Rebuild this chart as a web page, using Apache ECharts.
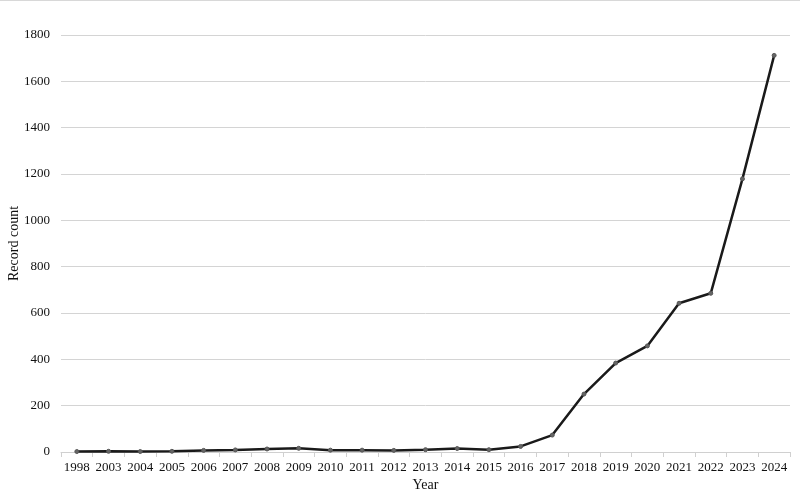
<!DOCTYPE html>
<html>
<head>
<meta charset="utf-8">
<script src="https://cdn.jsdelivr.net/npm/echarts@6/dist/echarts.min.js"></script>
<style>
  html, body { margin: 0; padding: 0; background: #fff; }
  #chart { width: 800px; height: 491px; }
</style>
</head>
<body>
<div id="chart"></div>
<script>
const years = ['1998', '2003', '2004', '2005', '2006', '2007', '2008', '2009', '2010', '2011',
  '2012', '2013', '2014', '2015', '2016', '2017', '2018', '2019', '2020', '2021',
  '2022', '2023', '2024']
const recordCounts = [2, 3, 2, 3, 7, 9, 13, 16, 8, 8,
  7, 10, 15, 10, 24, 73, 250, 384, 458, 642,
  685, 1179, 1712]

const font = 'Liberation Serif'

const chart = echarts.init(document.getElementById('chart'))
chart.setOption({
  animation: false,
  textStyle: { fontFamily: font },
  grid: { left: 61, right: 10, top: 35, bottom: 39, outerBoundsMode: 'none', containLabel: false },
  xAxis: {
    type: 'category',
    data: years,
    boundaryGap: true,
    name: 'Year',
    nameLocation: 'middle',
    nameGap: 26,
    nameMoveOverlap: false,
    nameTextStyle: { fontFamily: font, fontSize: 14, color: '#111' },
    axisLine: { lineStyle: { color: '#d0d0d0' } },
    axisTick: { show: true, alignWithLabel: false, length: 5, lineStyle: { color: '#d0d0d0' } },
    axisLabel: { fontFamily: font, fontSize: 13, color: '#111', margin: 9, interval: 0 }
  },
  yAxis: {
    type: 'value',
    min: 0,
    max: 1800,
    interval: 200,
    name: 'Record count',
    nameLocation: 'middle',
    nameGap: 40,
    nameMoveOverlap: false,
    nameRotate: 90,
    nameTextStyle: { fontFamily: font, fontSize: 14, color: '#111' },
    axisLine: { show: false },
    axisTick: { show: false },
    axisLabel: { fontFamily: font, fontSize: 13, color: '#111', margin: 11, formatter: v => String(v) },
    splitLine: { lineStyle: { color: '#d4d4d4', width: 1 } }
  },
  series: [{
    type: 'line',
    data: recordCounts,
    symbol: 'circle',
    symbolSize: 4,
    lineStyle: { color: '#1a1a1a', width: 2.5 },
    itemStyle: { color: '#666', borderColor: '#555', borderWidth: 1 }
  }],
  graphic: [{
    type: 'line',
    shape: { x1: 0, y1: 0.5, x2: 800, y2: 0.5 },
    style: { stroke: '#d8d8d8', lineWidth: 1 }
  }]
})
</script>
</body>
</html>
